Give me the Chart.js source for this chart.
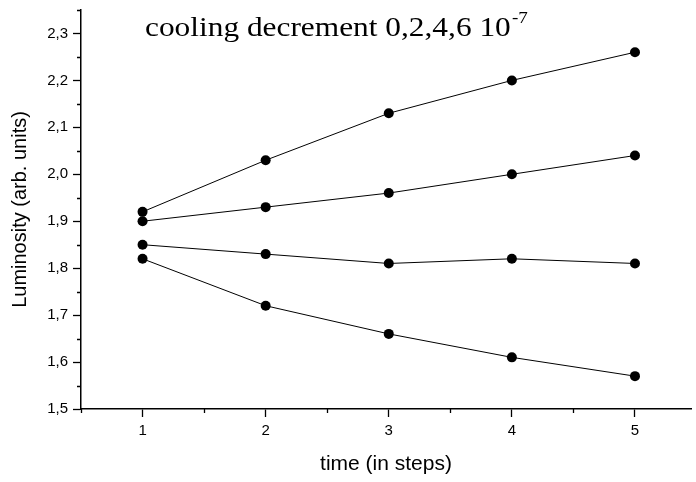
<!DOCTYPE html>
<html>
<head>
<meta charset="utf-8">
<script src="https://cdn.jsdelivr.net/npm/chart.js@4.4.1/dist/chart.umd.min.js"></script>
<style>
  html, body { margin: 0; padding: 0; background: #fff; overflow: hidden; }
  canvas { display: block; }
</style>
</head>
<body>
<canvas id="lumChart" width="696" height="482"></canvas>
<script>
// time steps
const steps = [1, 2, 3, 4, 5];

// luminosity per cooling decrement (top to bottom)
const lum0 = [1.92, 2.03, 2.13, 2.20, 2.26];
const lum2 = [1.90, 1.93, 1.96, 2.00, 2.04];
const lum4 = [1.85, 1.83, 1.81, 1.82, 1.81];
const lum6 = [1.82, 1.72, 1.66, 1.61, 1.57];

// axis ticks
const xTickValues = [1, 2, 3, 4, 5];
const xTickLabels = ['1', '2', '3', '4', '5'];
const xMinorTicks = [0.5, 1.5, 2.5, 3.5, 4.5];
const yTickValues = [1.5, 1.6, 1.7, 1.8, 1.9, 2.0, 2.1, 2.2, 2.3];
const yTickLabels = ['1,5', '1,6', '1,7', '1,8', '1,9', '2,0', '2,1', '2,2', '2,3'];
const yMinorTicks = [1.55, 1.65, 1.75, 1.85, 1.95, 2.05, 2.15, 2.25, 2.35];

const titleMain = 'cooling decrement 0,2,4,6 10';
const titleSup = '-7';

function toPoints(arr) {
    return steps.map((s, i) => ({ x: s, y: arr[i] }));
}

const allSeries = [lum0, lum2, lum4, lum6];
const datasets = allSeries.map(function (arr) {
    return {
        data: toPoints(arr),
        borderColor: '#000',
        backgroundColor: '#000',
        borderWidth: 1,
        pointRadius: 5,
        pointHoverRadius: 5,
        pointBackgroundColor: '#000',
        pointBorderWidth: 0,
        tension: 0,
        clip: false
    };
});

function noPadding(scale) {
    scale.paddingLeft = 0;
    scale.paddingRight = 0;
    scale.paddingTop = 0;
    scale.paddingBottom = 0;
}

// 小刻度 + 標題
const extras = {
    id: 'extras',
    afterDraw(chart) {
        const ctx = chart.ctx;
        const x = chart.scales.x;
        const y = chart.scales.y;
        ctx.save();
        ctx.strokeStyle = '#000';
        ctx.lineWidth = 1.3;
        ctx.beginPath();
        xMinorTicks.forEach(v => {
            const px = Math.round(x.getPixelForValue(v)) + 0.5;
            ctx.moveTo(px, x.top);
            ctx.lineTo(px, x.top + 4);
        });
        yMinorTicks.forEach(v => {
            const py = Math.round(y.getPixelForValue(v)) + 0.5;
            ctx.moveTo(y.right, py);
            ctx.lineTo(y.right - 4, py);
        });
        ctx.stroke();

        // title, slightly widened like the original export
        ctx.fillStyle = '#000';
        ctx.textBaseline = 'alphabetic';
        ctx.textAlign = 'left';
        ctx.translate(145, 36);
        ctx.scale(1.12, 1);
        ctx.font = '28px "Liberation Serif", "Times New Roman", serif';
        ctx.fillText(titleMain, 0, 0);
        const w = ctx.measureText(titleMain).width;
        ctx.font = '17px "Liberation Serif", "Times New Roman", serif';
        ctx.fillText(titleSup, w + 1, -13);
        ctx.restore();
    }
};

new Chart(document.getElementById('lumChart').getContext('2d'), {
    type: 'line',
    data: { datasets: datasets },
    options: {
        responsive: false,
        animation: false,
        layout: { padding: { top: 10, right: 0, left: 0, bottom: 0 } },
        plugins: {
            legend: { display: false },
            tooltip: { enabled: false }
        },
        scales: {
            x: {
                type: 'linear',
                min: 0.5,
                max: 5.455,
                afterBuildTicks: function (scale) {
                    scale.ticks = xTickValues.map(v => ({ value: v }));
                },
                afterFit: function (scale) {
                    scale.height = 73;
                    noPadding(scale);
                },
                ticks: {
                    callback: function (value, index) { return xTickLabels[index]; },
                    color: '#000',
                    padding: 5,
                    maxRotation: 0,
                    font: { family: '"Liberation Sans", Arial, sans-serif', size: 15 }
                },
                grid: {
                    drawOnChartArea: false,
                    drawTicks: true,
                    tickLength: 8,
                    tickColor: '#000',
                    tickWidth: 1.3
                },
                border: { color: '#000', width: 1.5 },
                title: {
                    display: true,
                    text: 'time (in steps)',
                    color: '#000',
                    padding: { top: 0, bottom: 5 },
                    font: { family: '"Liberation Sans", Arial, sans-serif', size: 21 }
                }
            },
            y: {
                type: 'linear',
                min: 1.5,
                max: 2.35,
                afterBuildTicks: function (scale) {
                    scale.ticks = yTickValues.map(v => ({ value: v }));
                },
                afterFit: function (scale) {
                    scale.width = 81;
                    noPadding(scale);
                },
                ticks: {
                    callback: function (value, index) { return yTickLabels[index]; },
                    color: '#000',
                    padding: 5,
                    font: { family: '"Liberation Sans", Arial, sans-serif', size: 15 }
                },
                grid: {
                    drawOnChartArea: false,
                    drawTicks: true,
                    tickLength: 8,
                    tickColor: '#000',
                    tickWidth: 1.3
                },
                border: { color: '#000', width: 1.5 },
                title: {
                    display: true,
                    text: 'Luminosity (arb. units)',
                    color: '#000',
                    padding: { top: 8, bottom: 8 },
                    font: { family: '"Liberation Sans", Arial, sans-serif', size: 20 }
                }
            }
        }
    },
    plugins: [extras]
});
</script>
</body>
</html>
